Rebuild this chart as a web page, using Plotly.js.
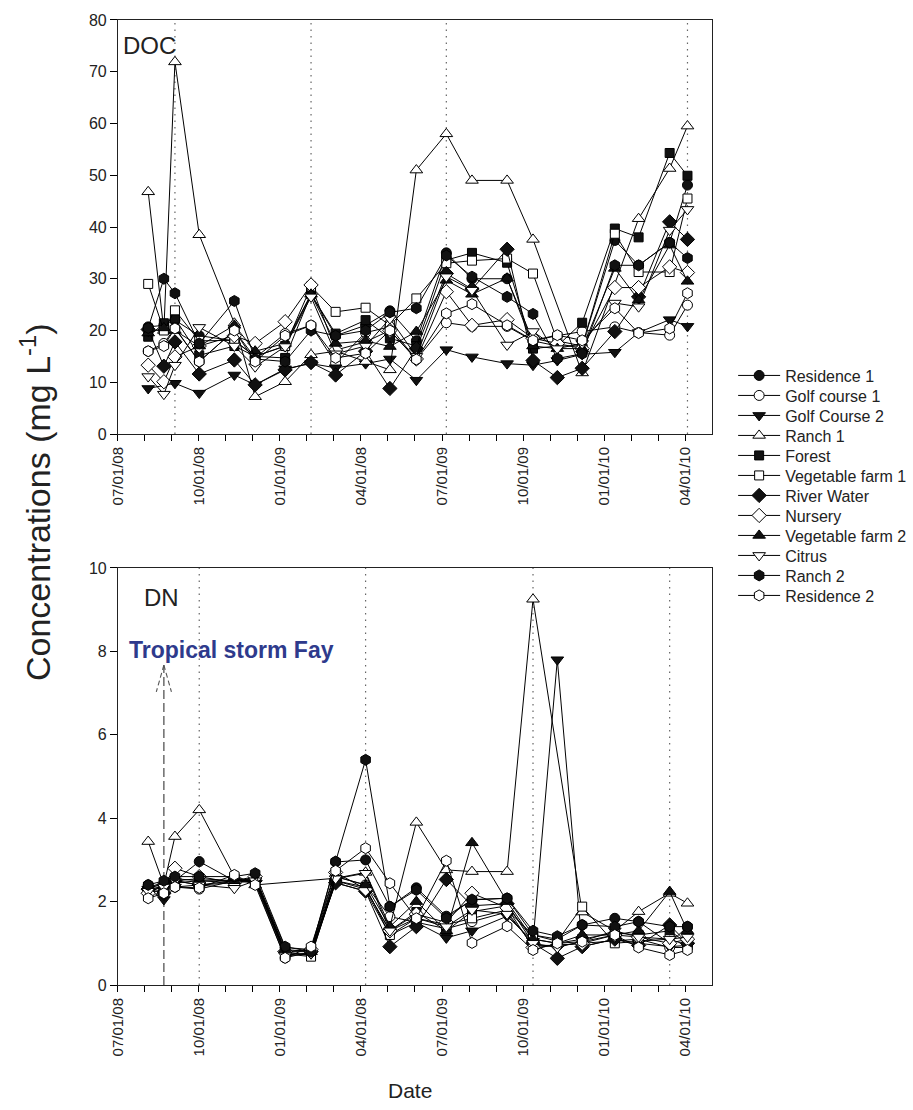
<!DOCTYPE html>
<html>
<head>
<meta charset="utf-8">
<script src="https://cdn.plot.ly/plotly-3.0.1.min.js"></script>
<style>
html,body{margin:0;padding:0;background:#fff;}
#chart{width:913px;height:1110px;}
</style>
</head>
<body>
<div id="chart"></div>
<script>
// Sampling dates, in months after 07/01/08
const sampleMonths = [1.12, 1.70, 2.11, 3.01, 4.31, 5.08, 6.19, 7.15, 8.06, 9.17, 10.07,
                      11.05, 12.16, 13.11, 14.41, 15.37, 16.27, 17.19, 18.40, 19.28, 20.43, 21.09];

// Labelled tick positions (months) and labels (as printed in the figure)
const tickMonths = [0, 3, 6, 9, 12, 15, 18, 21];
const tickLabels = ['07/01/08','10/01/08','01/01/09','04/01/08','07/01/09','10/01/09','01/01/10','04/01/10'];
const monthTicks = [0,1,2,3,4,5,6,7,8,9,10,11,12,13,14,15,16,17,18,19,20,21];

// Index of samples marked with dotted lines
const docMarkedSamples = [2, 7, 12, 21];
const dnMarkedSamples = [3, 9, 15, 20];
const stormSample = 1;
const stormArrowTop = 7.67;

const seriesNames = ['Residence 1','Golf course 1','Golf Course 2','Ranch 1','Forest',
  'Vegetable farm 1','River Water','Nursery','Vegetable farm 2','Citrus','Ranch 2','Residence 2'];

// DOC (mg/L)
const res1DOC   = [20.7, 21, 22, 19, 18, 15, 17, 27, 19, 21, 23.8, 18, 35, 30, 30, 18, 17, 17, 37.4, 32.6, 37, 48.1];
const golf1DOC  = [16, 17.5, 20.5, 14, 20, 14.7, 19.4, 21, 13.7, 19.6, 20.7, 14.4, 21.5, 20.8, 20.8, 18, 19, 19.8, 20.7, 19.6, 19.1, 24.9];
const golf2DOC  = [8.8, null, 9.8, 7.9, 11.4, 9.5, 12.6, 13.6, 12.8, 13.6, 14.5, 10.4, 16.3, 14.9, 13.6, 13.3, 14.2, 15.4, 15.8, 19.6, 22.1, 20.8];
const ranch1DOC = [46.8, 20, 71.9, 38.5, 21.4, 7.2, 10.1, 15.3, 16, 14, 12.4, 51, 58, 49, 49, 37.6, null, 11.8, null, 41.6, 51.3, 59.5];
const forestDOC = [18.8, 21.4, 22.3, 15.2, 17, 15, 14.7, 27, 19.4, 22, 18.5, 17, 33.6, 35, 33.1, 16.5, 17, 21.5, 39.7, 38, 54.3, 49.9];
const veg1DOC   = [29, 20, 23.9, 18, 18.1, 15, 17, 28.5, 23.6, 24.4, 21, 26.2, 33, 33.5, 33.9, 31, 18, 17, 38.7, 31.3, 31.3, 45.5];
const riverDOC  = [20.2, 13.1, 17.8, 11.6, 14.3, 9.5, 12.4, 13.8, 11.4, 16, 8.8, 16.5, 31, 28, 35.7, 14.2, 10.9, 12.7, 19.8, 26.5, 41, 37.6];
const nurseryDOC= [13.3, 10.1, 14.9, 17, 19, 17.5, 21.7, 28.8, 16.2, 17.8, 20, 14.5, 27.5, 21, 22.1, 18.5, 17.5, 16.5, 28.3, 28.3, 32.3, 31.2];
const veg2DOC   = [19.5, 20.5, 20, 17, 21, 16, 17.5, 27, 17.5, 18, 16.9, 19.8, 29.7, 27, 30.1, 17, 16.5, 16.5, 32, 25.9, 36.5, 29.5];
const citrusDOC = [11.1, 7.7, 13.3, 20.6, 17, 13, 16.9, 26.5, 15.5, 17, 22.3, 15, 30.4, 27.8, 17.2, 19.8, 16.5, 17.5, 25.3, 24.6, 39.4, 43.4];
const ranch2DOC = [20.5, 30, 27.2, 17.5, 25.7, 14.5, 14, 20, 19, 20, 23.5, 24.3, 34.5, 30.4, 26.5, 23.2, 14.6, 15.5, 32.6, 32.6, 37, 34];
const res2DOC   = [16, 17, 20.4, 14, 20, 14, 19, 21, 14.7, 15.6, 20, 14.4, 23.3, 25.1, 21, 18.1, 19.1, 18.1, 24.3, 19.5, 20.4, 27.2];

// DN (mg/L)
const res1DN    = [2.4, 2.3, 2.5, 2.96, 2.5, 2.6, 0.9, 0.85, 2.95, 3.0, 1.88, 2.33, 1.65, 2.04, 2.08, 1.2, 1.1, 1.44, 1.6, 1.52, 1.0, 1.4];
const golf1DN   = [2.2, 2.3, 2.35, 2.3, 2.5, 2.45, 0.65, 0.8, 2.6, 2.4, 1.64, 1.5, 1.35, 1.52, 1.75, 0.95, 0.95, 1.0, 1.05, 1.1, 0.9, 0.9];
const golf2DN   = [2.3, 2.05, 2.35, 2.4, 2.45, 2.5, 0.75, 0.75, 2.45, 2.25, 1.2, 1.5, 1.13, 1.3, 1.65, 1.05, 7.8, 0.92, 1.1, 1.0, 0.92, 0.95];
const ranch1DN  = [3.44, 2.4, 3.56, 4.2, 2.6, 2.4, null, null, 2.56, 2.7, 1.4, 3.9, 2.76, 2.72, 2.72, 9.25, null, 1.75, 1.3, 1.76, 2.2, 1.96];
const forestDN  = [2.35, 2.4, 2.45, 2.5, 2.45, 2.55, 0.8, 0.7, 2.5, 2.3, 1.3, 1.75, 1.3, 1.76, 1.9, 1.1, 1.0, 1.1, 1.25, 1.2, 1.3, 1.0];
const veg1DN    = [2.3, 2.35, 2.5, 2.55, 2.5, 2.5, 0.75, 0.68, 2.5, 2.35, 1.2, 1.6, 1.45, 1.6, 1.8, 1.2, 1.05, 1.88, 1.0, 1.05, 1.1, 0.95];
const riverDN   = [2.3, 2.2, 2.5, 2.4, 2.5, 2.5, 0.8, 0.8, 2.45, 2.25, 0.92, 1.4, 2.53, 1.9, 1.95, 1.0, 0.64, 0.92, 1.1, 0.95, 1.44, 1.0];
const nurseryDN = [2.2, 2.4, 2.8, 2.6, 2.45, 2.6, 0.8, 0.85, 2.7, 2.3, 1.3, 1.7, 1.5, 2.2, 1.85, 0.9, 0.95, 1.0, 1.2, 1.15, 1.0, 1.1];
const veg2DN    = [2.35, 2.45, 2.55, 2.5, 2.5, 2.55, 0.85, 0.8, 2.6, 2.4, 1.4, 2.0, 1.3, 3.41, 2.0, 1.1, 1.0, 1.2, 1.2, 1.3, 2.24, 1.3];
const citrusDN  = [2.25, 2.35, 2.5, 2.4, 2.32, 2.5, 0.7, 0.75, 2.55, 2.68, 1.3, 1.6, 1.4, 1.8, 1.7, 1.0, 0.9, 1.05, 1.3, 1.15, 1.1, 1.15];
const ranch2DN  = [2.4, 2.5, 2.6, 2.6, 2.6, 2.68, 0.92, 0.8, 2.96, 5.4, 1.88, 2.28, 1.6, 2.05, 2.08, 1.3, 1.17, 1.44, 1.4, 1.52, 1.4, 1.4];
const res2DN    = [2.08, 2.2, 2.35, 2.33, 2.64, 2.4, 0.65, 0.92, 2.74, 3.28, 2.44, 1.6, 2.98, 1.01, 1.41, 0.84, 1.0, 1.04, 1.2, 0.9, 0.72, 0.84];

const docSeries = [res1DOC, golf1DOC, golf2DOC, ranch1DOC, forestDOC, veg1DOC, riverDOC, nurseryDOC, veg2DOC, citrusDOC, ranch2DOC, res2DOC];
const dnSeries  = [res1DN, golf1DN, golf2DN, ranch1DN, forestDN, veg1DN, riverDN, nurseryDN, veg2DN, citrusDN, ranch2DN, res2DN];

// Marker styles (symbol, filled, size)
const styles = [
  ['circle', true, 10], ['circle', false, 10], ['triangle-down', true, 11], ['triangle-up', false, 11],
  ['square', true, 9], ['square', false, 9], ['diamond', true, 11], ['diamond', false, 11],
  ['triangle-up', true, 11], ['triangle-down', false, 11], ['hexagon', true, 11], ['hexagon', false, 11]
];

const FONT = 'Liberation Sans, Arial, Helvetica, sans-serif';
const traces = [];
seriesNames.forEach((name, i) => {
  const [sym, filled, sz] = styles[i];
  const marker = {symbol: sym, size: sz, color: filled ? '#111' : '#fff', line: {color: '#000', width: 1}};
  const line = {color: '#000', width: 1};
  traces.push({x: sampleMonths, y: docSeries[i], name: name, type: 'scatter', mode: 'lines+markers',
    xaxis: 'x', yaxis: 'y', marker: marker, line: line, connectgaps: true, showlegend: true});
});
seriesNames.forEach((name, i) => {
  const [sym, filled, sz] = styles[i];
  const marker = {symbol: sym, size: sz, color: filled ? '#111' : '#fff', line: {color: '#000', width: 1}};
  const line = {color: '#000', width: 1};
  traces.push({x: sampleMonths, y: dnSeries[i], name: name, type: 'scatter', mode: 'lines+markers',
    xaxis: 'x2', yaxis: 'y2', marker: marker, line: line, connectgaps: true, showlegend: false});
});

const dotted = {color: '#666', width: 1.2, dash: '1.5px,5px'};
const shapes = [];
docMarkedSamples.forEach(k => shapes.push({type: 'line', xref: 'x', yref: 'y domain', x0: sampleMonths[k], x1: sampleMonths[k], y0: 0, y1: 1,
  line: dotted, layer: 'below'}));
dnMarkedSamples.forEach(k => shapes.push({type: 'line', xref: 'x2', yref: 'y2 domain', x0: sampleMonths[k], x1: sampleMonths[k], y0: 0, y1: 1,
  line: dotted, layer: 'below'}));
const sx = sampleMonths[stormSample];
const arrowLine = {color: '#555', width: 1.3, dash: '9px,4px'};
shapes.push({type: 'line', xref: 'x2', yref: 'y2', x0: sx, x1: sx, y0: 0, y1: stormArrowTop, line: arrowLine, layer: 'below'});
shapes.push({type: 'line', xref: 'x2', yref: 'y2', x0: sx, x1: sx - 0.28, y0: stormArrowTop, y1: stormArrowTop - 0.64, line: {color: '#555', width: 1.1, dash: '5px,3px'}});
shapes.push({type: 'line', xref: 'x2', yref: 'y2', x0: sx, x1: sx + 0.28, y0: stormArrowTop, y1: stormArrowTop - 0.64, line: {color: '#555', width: 1.1, dash: '5px,3px'}});

const xCommon = {
  range: [0, 22], tickmode: 'array', tickvals: tickMonths, ticktext: tickLabels, tickangle: -90,
  ticks: 'outside', ticklen: 6, tickcolor: '#000',
  minor: {tickmode: 'array', tickvals: monthTicks, ticks: 'outside', ticklen: 6, tickcolor: '#000', showgrid: false},
  showline: true, linecolor: '#222', linewidth: 1, mirror: true,
  showgrid: false, zeroline: false, tickfont: {family: FONT, size: 15, color: '#222'}, domain: [0.1292, 0.7799]
};
const yCommon = {
  ticks: 'outside', ticklen: 7, tickcolor: '#000', showline: true, linecolor: '#222', linewidth: 1, mirror: true,
  showgrid: false, zeroline: false, tickfont: {family: FONT, size: 16, color: '#222'}
};

const layout = {
  width: 913, height: 1110,
  margin: {l: 0, r: 0, t: 0, b: 0},
  paper_bgcolor: '#fff', plot_bgcolor: '#fff',
  font: {family: FONT, color: '#222'},
  xaxis: Object.assign({}, xCommon, {anchor: 'y'}),
  yaxis: Object.assign({}, yCommon, {domain: [0.6090, 0.9820], range: [0, 80], dtick: 10, anchor: 'x'}),
  xaxis2: Object.assign({}, xCommon, {anchor: 'y2'}),
  yaxis2: Object.assign({}, yCommon, {domain: [0.1126, 0.4883], range: [0, 10], dtick: 2, anchor: 'x2'}),
  showlegend: true,
  legend: {x: 0.803, y: 0.677, xanchor: 'left', yanchor: 'top', font: {family: FONT, size: 16, color: '#222'},
    tracegroupgap: 0, itemwidth: 42, bgcolor: 'rgba(0,0,0,0)'},
  shapes: shapes,
  annotations: [
    {text: 'DOC', xref: 'x', yref: 'y', x: 0.1, y: 75, xanchor: 'left', yanchor: 'middle', showarrow: false,
      font: {family: FONT, size: 24, color: '#222'}},
    {text: 'DN', xref: 'x2', yref: 'y2', x: 0.9, y: 9.3, xanchor: 'left', yanchor: 'middle', showarrow: false,
      font: {family: FONT, size: 24, color: '#222'}},
    {text: '<b>Tropical storm Fay</b>', xref: 'x2', yref: 'y2', x: 4.2, y: 8.03, xanchor: 'center', yanchor: 'middle', showarrow: false,
      font: {family: FONT, size: 23, color: '#2e3a8c'}},
    {text: 'Concentrations (mg L<sup>-1</sup>)', xref: 'paper', yref: 'paper', x: 35/913, y: 1 - 502/1110, textangle: -90,
      xanchor: 'center', yanchor: 'middle', showarrow: false, font: {family: FONT, size: 34, color: '#222'}},
    {text: 'Date', xref: 'paper', yref: 'paper', x: 410/913, y: 1 - 1090/1110, xanchor: 'center', yanchor: 'middle',
      showarrow: false, font: {family: FONT, size: 21, color: '#222'}}
  ]
};

Plotly.newPlot('chart', traces, layout, {displayModeBar: false, staticPlot: true}).then(gd => {
  // tighten legend rows to the 20 px spacing of the reference
  const items = gd.querySelectorAll('.legend .traces');
  if (!items.length) return;
  const m = /translate\(\s*([-\d.]+)[ ,]+([-\d.]+)\s*\)/.exec(items[0].getAttribute('transform') || '');
  const x0 = m ? parseFloat(m[1]) : 0;
  const y0 = m ? parseFloat(m[2]) : 0;
  items.forEach((el, i) => el.setAttribute('transform', 'translate(' + x0 + ',' + (y0 + i * 20) + ')'));
});
</script>
</body>
</html>
